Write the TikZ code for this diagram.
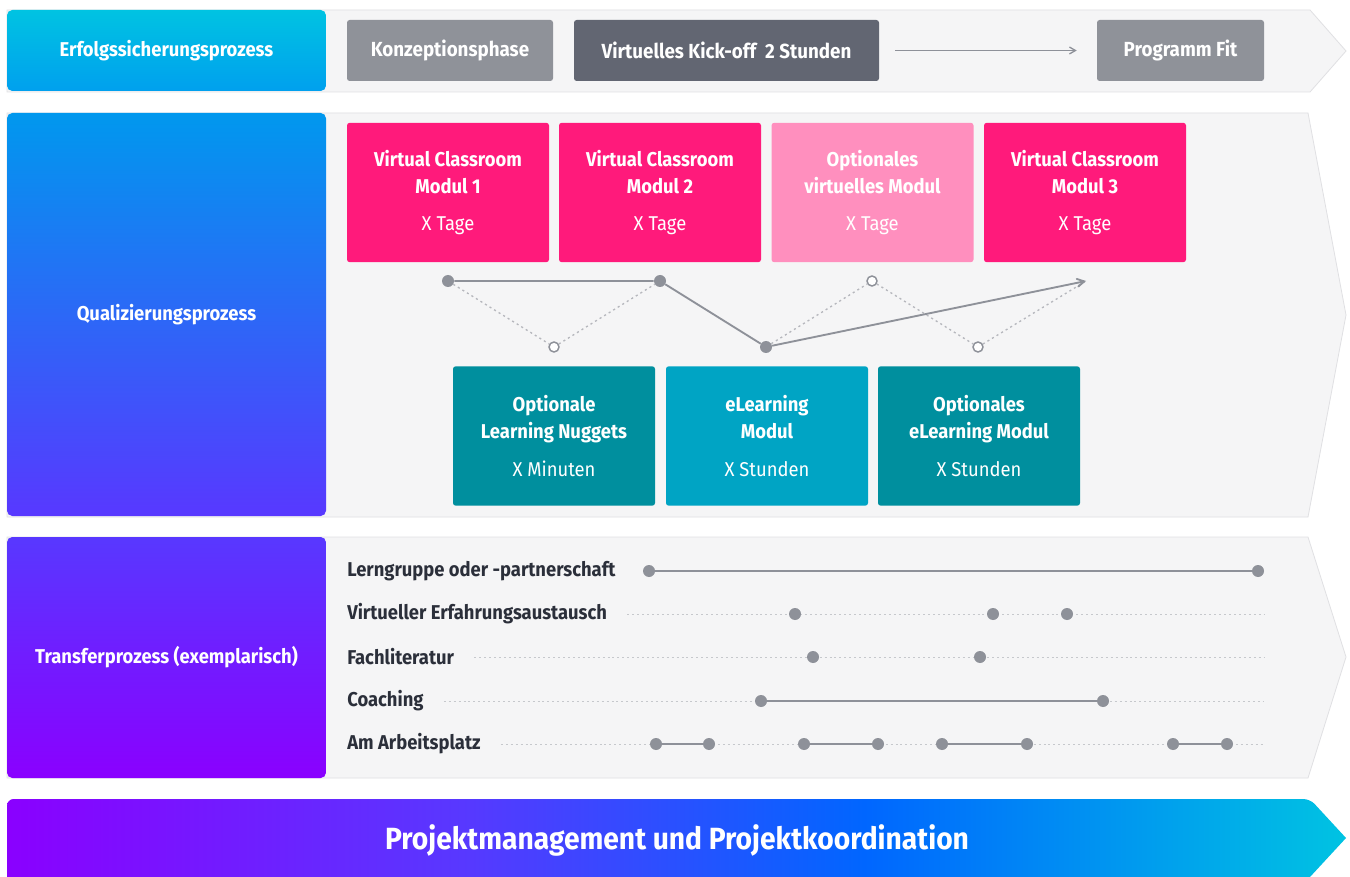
\documentclass[tikz,border=0pt]{standalone}
\usepackage{fontspec}
\setmainfont{Fira Sans}[FakeStretch=0.92]
\usetikzlibrary{arrows}

\definecolor{bandgrey}{HTML}{F5F5F6}
\definecolor{bandline}{HTML}{E0E0E3}
\definecolor{boxgrey}{HTML}{8F9299}
\definecolor{boxdark}{HTML}{626672}
\definecolor{vcpink}{HTML}{FF1A7B}
\definecolor{optpink}{HTML}{FF8FBE}
\definecolor{elteal}{HTML}{008F9E}
\definecolor{elcyan}{HTML}{00A4C4}
\definecolor{dotgrey}{HTML}{8E9199}
\definecolor{txtdark}{HTML}{2B2F3A}
\definecolor{skycyan}{HTML}{00C3E2}
\definecolor{skyblue}{HTML}{00A0EE}
\definecolor{midblue}{HTML}{0098EE}
\definecolor{royal}{HTML}{0066FF}
\definecolor{indigo}{HTML}{5838FF}
\definecolor{violet}{HTML}{8A00FF}

\pgfdeclarehorizontalshading{pmshade}{100bp}{color(0bp)=(violet); color(25bp)=(violet); color(42bp)=(indigo); color(57bp)=(royal); color(75bp)=(skycyan); color(100bp)=(skycyan)}

\newcommand{\dauer}[1]{{\mdseries #1}}

\tikzset{
every node/.style={inner sep=0pt, font=\bfseries\fontsize{15}{20.25}\selectfont},
band/.style={fill=bandgrey, draw=bandline, line width=0.6pt},
rowlabel/.style={rounded corners=4pt, minimum width=239.25pt, text=white},
tag/.style={rounded corners=2pt, minimum height=45.75pt, text=white, font=\bfseries\fontsize{15.3}{18}\selectfont},
modbox/.style={rounded corners=2pt, minimum width=151.5pt, minimum height=104.5pt, text=white, align=center},
trlabel/.style={anchor=west, text=txtdark},
dot/.style={circle, fill=dotgrey, minimum size=9pt},
odot/.style={circle, draw=dotgrey, fill=white, line width=1.1pt, minimum size=7.5pt},
pfad/.style={draw=dotgrey, line width=1.4pt},
zig/.style={draw=dotgrey!65, line width=1pt, dash pattern=on 1.6pt off 2.4pt},
spur/.style={draw=dotgrey!50, line width=0.7pt, dash pattern=on 1.5pt off 2.2pt, shorten <=15pt}
}

\begin{document}
\begin{tikzpicture}[x=0.75pt,y=-0.75pt]
\fill[white] (0,0) rectangle (1350,877);
\useasboundingbox (0,0) rectangle (1350,877);

% Baender
\draw[band] (7,10) -- (1310,10) -- (1346,51) -- (1310,92) -- (7,92) -- cycle;
\draw[band] (7,113) -- (1308,113) -- (1346,315) -- (1308,517) -- (7,517) -- cycle;
\draw[band] (7,537) -- (1308,537) -- (1346,657) -- (1308,778) -- (7,778) -- cycle;
\shade[shading=pmshade] (7,877) {[rounded corners=5pt] -- (7,799) -- (1310,799)} -- (1346,838) -- (1310,877) -- cycle;

% Prozesse
\node [rowlabel, top color=skycyan, bottom color=skyblue, minimum height=60.75pt] (erfolg) at (166.5,50.5) {Erfolgssicherungsprozess};
\node [rowlabel, top color=midblue, middle color=royal, bottom color=indigo, minimum height=302.25pt] (quali) at (166.5,314.5) {Qualizierungsprozess};
\node [rowlabel, top color=indigo, bottom color=violet, minimum height=180.75pt] (transfer) at (166.5,657.5) {Transferprozess (exemplarisch)};

% Erfolgssicherung
\node [tag, fill=boxgrey, minimum width=154.5pt] (konzept) at (450,50.5) {Konzeptionsphase};
\node [tag, fill=boxdark, minimum width=228.75pt] (kickoff) at (726.5,50.5) {Virtuelles Kick-off~ 2 Stunden};
\node [tag, fill=boxgrey, minimum width=125.25pt] (fit) at (1180.5,50.5) {Programm Fit};
\draw[draw=dotgrey, line width=1pt, -angle 60, shorten <=12pt, shorten >=15pt] (kickoff) -- (fit);

% Qualifizierung
\node [modbox, fill=vcpink] (vc1) at (448,192.5) {Virtual Classroom\\Modul 1\\[8pt]\dauer{X Tage}};
\node [modbox, fill=vcpink] (vc2) at (660,192.5) {Virtual Classroom\\Modul 2\\[8pt]\dauer{X Tage}};
\node [modbox, fill=optpink] (optvm) at (872.5,192.5) {Optionales\\virtuelles Modul\\[8pt]\dauer{X Tage}};
\node [modbox, fill=vcpink] (vc3) at (1085,192.5) {Virtual Classroom\\Modul 3\\[8pt]\dauer{X Tage}};

\node [modbox, fill=elteal] (nuggets) at (554,436) {Optionale\\Learning Nuggets\\[8pt]\dauer{X Minuten}};
\node [modbox, fill=elcyan] (elm) at (767,436) {eLearning\\Modul\\[8pt]\dauer{X Stunden}};
\node [modbox, fill=elteal] (optelm) at (979,436) {Optionales\\eLearning Modul\\[8pt]\dauer{X Stunden}};

\node [dot] (t1) at (448,281) {};
\node [dot] (t2) at (660,281) {};
\node [odot] (t3) at (554,347) {};
\node [dot] (t4) at (766,347) {};
\node [odot] (t5) at (872,281) {};
\node [odot] (t6) at (978,347) {};
\coordinate (t7) at (1086,281);
\draw[zig] (t1) -- (t3) -- (t2);
\draw[zig] (t4) -- (t5) -- (t6) -- (t7);
\draw[pfad] (t1) -- (t2) -- (t4);
\draw[pfad, -angle 60] (t4) -- (t7);

% Transfer
\node [trlabel] (lern) at (347,571) {Lerngruppe oder -partnerschaft};
\node [trlabel] (virt) at (347,614) {Virtueller Erfahrungsaustausch};
\node [trlabel] (fach) at (347,657) {Fachliteratur};
\node [trlabel] (coach) at (347,701) {Coaching};
\node [trlabel] (arbeit) at (347,744) {Am Arbeitsplatz};
\coordinate (ve) at (1264,614);
\coordinate (fe) at (1264,657);
\coordinate (ce) at (1264,701);
\coordinate (ae) at (1264,744);
\draw[spur] (virt) -- (ve);
\draw[spur] (fach) -- (fe);
\draw[spur] (coach) -- (ce);
\draw[spur] (arbeit) -- (ae);

\node [dot] (l1) at (649,571) {};
\node [dot] (l2) at (1258,571) {};
\draw[pfad] (l1) -- (l2);

\node [dot] (v1) at (795,614) {};
\node [dot] (v2) at (993,614) {};
\node [dot] (v3) at (1067,614) {};

\node [dot] (f1) at (813,657) {};
\node [dot] (f2) at (980,657) {};

\node [dot] (c1) at (761,701) {};
\node [dot] (c2) at (1103,701) {};
\draw[pfad] (c1) -- (c2);

\node [dot] (a1) at (656,744) {};
\node [dot] (a2) at (709,744) {};
\node [dot] (a3) at (804,744) {};
\node [dot] (a4) at (878,744) {};
\node [dot] (a5) at (942,744) {};
\node [dot] (a6) at (1027,744) {};
\node [dot] (a7) at (1173,744) {};
\node [dot] (a8) at (1227,744) {};
\draw[pfad] (a1) -- (a2);
\draw[pfad] (a3) -- (a4);
\draw[pfad] (a5) -- (a6);
\draw[pfad] (a7) -- (a8);

% Projektmanagement
\node [text=white, font=\bfseries\fontsize{23}{26}\selectfont] (pm) at (677,840) {Projektmanagement und Projektkoordination};
\end{tikzpicture}
\end{document}
